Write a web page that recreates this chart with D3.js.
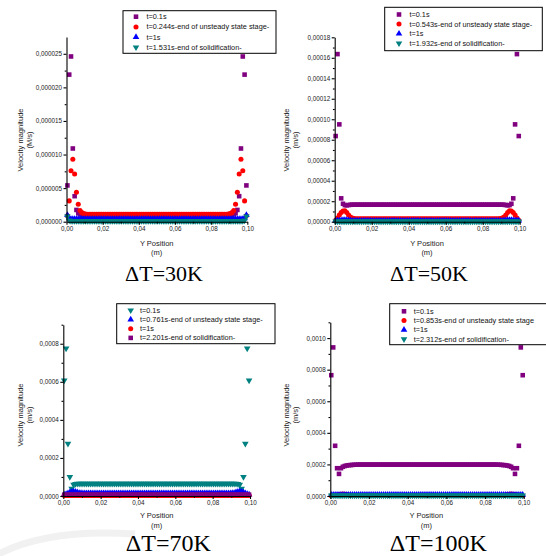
<!DOCTYPE html>
<html>
<head>
<meta charset="utf-8">
<script src="https://cdn.jsdelivr.net/npm/d3@7"></script>
<style>
  body { margin: 0; background: #fff; }
  svg { display: block; font-family: "Liberation Sans", Arial, sans-serif; }
  .caption { font-family: "Liberation Serif", "Times New Roman", serif; }
</style>
</head>
<body>
<svg id="chart" width="546" height="556"></svg>
<script>
// cell centres along the gap, in mm (axis is shown in m)
const cellMm = [
  0.5,1.5,2.5,3.5,4.5,5.5,6.5,7.5,8.5,9.5,10.5,11.5,12.5,13.5,14.5,15.5,16.5,17.5,18.5,19.5,
  20.5,21.5,22.5,23.5,24.5,25.5,26.5,27.5,28.5,29.5,30.5,31.5,32.5,33.5,34.5,35.5,36.5,37.5,38.5,39.5,
  40.5,41.5,42.5,43.5,44.5,45.5,46.5,47.5,48.5,49.5,50.5,51.5,52.5,53.5,54.5,55.5,56.5,57.5,58.5,59.5,
  60.5,61.5,62.5,63.5,64.5,65.5,66.5,67.5,68.5,69.5,70.5,71.5,72.5,73.5,74.5,75.5,76.5,77.5,78.5,79.5,
  80.5,81.5,82.5,83.5,84.5,85.5,86.5,87.5,88.5,89.5,90.5,91.5,92.5,93.5,94.5,95.5,96.5,97.5,98.5,99.5
];

// velocity magnitudes, in micrometres per second
// dT = 30K
const v30_t01 = [
  5.4,21.9,24.6,10.9,3.8,1.75,1.25,1.1,1,1,1,1,1,1,1,1,1,1,1,1,
  1,1,1,1,1,1,1,1,1,1,1,1,1,1,1,1,1,1,1,1,
  1,1,1,1,1,1,1,1,1,1,1,1,1,1,1,1,1,1,1,1,
  1,1,1,1,1,1,1,1,1,1,1,1,1,1,1,1,1,1,1,1,
  1,1,1,1,1,1,1,1,1,1,1,1,1.1,1.25,1.75,3.8,10.9,24.6,21.9,5.4
];
const v30_t0244 = [
  0.9,3.1,7.6,9.3,7.1,4.4,2.6,1.65,1.35,1.2,1.15,1.1,1.1,1.1,1.1,1.1,1.1,1.1,1.1,1.1,
  1.1,1.1,1.1,1.1,1.1,1.1,1.1,1.1,1.1,1.1,1.1,1.1,1.1,1.1,1.1,1.1,1.1,1.1,1.1,1.1,
  1.1,1.1,1.1,1.1,1.1,1.1,1.1,1.1,1.1,1.1,1.1,1.1,1.1,1.1,1.1,1.1,1.1,1.1,1.1,1.1,
  1.1,1.1,1.1,1.1,1.1,1.1,1.1,1.1,1.1,1.1,1.1,1.1,1.1,1.1,1.1,1.1,1.1,1.1,1.1,1.1,
  1.1,1.1,1.1,1.1,1.1,1.1,1.1,1.1,1.1,1.15,1.2,1.35,1.65,2.6,4.4,7.1,9.3,7.6,3.1,0.9
];
const v30_t1 = [
  1,0.5,0.4,0.4,0.4,0.4,0.4,0.4,0.4,0.4,0.4,0.4,0.4,0.4,0.4,0.4,0.4,0.4,0.4,0.4,
  0.4,0.4,0.4,0.4,0.4,0.4,0.4,0.4,0.4,0.4,0.4,0.4,0.4,0.4,0.4,0.4,0.4,0.4,0.4,0.4,
  0.4,0.4,0.4,0.4,0.4,0.4,0.4,0.4,0.4,0.4,0.4,0.4,0.4,0.4,0.4,0.4,0.4,0.4,0.4,0.4,
  0.4,0.4,0.4,0.4,0.4,0.4,0.4,0.4,0.4,0.4,0.4,0.4,0.4,0.4,0.4,0.4,0.4,0.4,0.4,0.4,
  0.4,0.4,0.4,0.4,0.4,0.4,0.4,0.4,0.4,0.4,0.4,0.4,0.4,0.4,0.4,0.4,0.4,0.4,0.5,1
];
const v30_t1531 = [
  0.8,0.2,0.1,0.1,0.1,0.1,0.1,0.1,0.1,0.1,0.1,0.1,0.1,0.1,0.1,0.1,0.1,0.1,0.1,0.1,
  0.1,0.1,0.1,0.1,0.1,0.1,0.1,0.1,0.1,0.1,0.1,0.1,0.1,0.1,0.1,0.1,0.1,0.1,0.1,0.1,
  0.1,0.1,0.1,0.1,0.1,0.1,0.1,0.1,0.1,0.1,0.1,0.1,0.1,0.1,0.1,0.1,0.1,0.1,0.1,0.1,
  0.1,0.1,0.1,0.1,0.1,0.1,0.1,0.1,0.1,0.1,0.1,0.1,0.1,0.1,0.1,0.1,0.1,0.1,0.1,0.1,
  0.1,0.1,0.1,0.1,0.1,0.1,0.1,0.1,0.1,0.1,0.1,0.1,0.1,0.1,0.1,0.1,0.1,0.1,0.2,0.8
];

// dT = 50K
const v50_t01 = [
  83.6,163.6,95,22.8,17.5,16.2,16,16.3,16.5,16.6,16.6,16.6,16.6,16.6,16.6,16.6,16.6,16.6,16.6,16.6,
  16.6,16.6,16.6,16.6,16.6,16.6,16.6,16.6,16.6,16.6,16.6,16.6,16.6,16.6,16.6,16.6,16.6,16.6,16.6,16.6,
  16.6,16.6,16.6,16.6,16.6,16.6,16.6,16.6,16.6,16.6,16.6,16.6,16.6,16.6,16.6,16.6,16.6,16.6,16.6,16.6,
  16.6,16.6,16.6,16.6,16.6,16.6,16.6,16.6,16.6,16.6,16.6,16.6,16.6,16.6,16.6,16.6,16.6,16.6,16.6,16.6,
  16.6,16.6,16.6,16.6,16.6,16.6,16.6,16.6,16.6,16.6,16.6,16.5,16.3,16,16.2,17.5,22.8,95,163.6,83.6
];
const v50_t0543 = [
  1.5,3.5,6.5,9,10.5,10.6,9,6.5,4.6,3.5,3.1,2.9,2.9,2.9,2.9,2.9,2.9,2.9,2.9,2.9,
  2.9,2.9,2.9,2.9,2.9,2.9,2.9,2.9,2.9,2.9,2.9,2.9,2.9,2.9,2.9,2.9,2.9,2.9,2.9,2.9,
  2.9,2.9,2.9,2.9,2.9,2.9,2.9,2.9,2.9,2.9,2.9,2.9,2.9,2.9,2.9,2.9,2.9,2.9,2.9,2.9,
  2.9,2.9,2.9,2.9,2.9,2.9,2.9,2.9,2.9,2.9,2.9,2.9,2.9,2.9,2.9,2.9,2.9,2.9,2.9,2.9,
  2.9,2.9,2.9,2.9,2.9,2.9,2.9,2.9,2.9,3.1,3.5,4.6,6.5,9,10.6,10.5,9,6.5,3.5,1.5
];
const v50_t1 = [
  1.2,1,1,1.3,1.5,1.6,1.5,1.3,1,0.9,0.9,0.9,0.9,0.9,0.9,0.9,0.9,0.9,0.9,0.9,
  0.9,0.9,0.9,0.9,0.9,0.9,0.9,0.9,0.9,0.9,0.9,0.9,0.9,0.9,0.9,0.9,0.9,0.9,0.9,0.9,
  0.9,0.9,0.9,0.9,0.9,0.9,0.9,0.9,0.9,0.9,0.9,0.9,0.9,0.9,0.9,0.9,0.9,0.9,0.9,0.9,
  0.9,0.9,0.9,0.9,0.9,0.9,0.9,0.9,0.9,0.9,0.9,0.9,0.9,0.9,0.9,0.9,0.9,0.9,0.9,0.9,
  0.9,0.9,0.9,0.9,0.9,0.9,0.9,0.9,0.9,0.9,0.9,1,1.3,1.5,1.6,1.5,1.3,1,1,1.2
];
const v50_t1932 = [
  0.3,0.3,0.3,0.3,0.3,0.3,0.3,0.3,0.3,0.3,0.3,0.3,0.3,0.3,0.3,0.3,0.3,0.3,0.3,0.3,
  0.3,0.3,0.3,0.3,0.3,0.3,0.3,0.3,0.3,0.3,0.3,0.3,0.3,0.3,0.3,0.3,0.3,0.3,0.3,0.3,
  0.3,0.3,0.3,0.3,0.3,0.3,0.3,0.3,0.3,0.3,0.3,0.3,0.3,0.3,0.3,0.3,0.3,0.3,0.3,0.3,
  0.3,0.3,0.3,0.3,0.3,0.3,0.3,0.3,0.3,0.3,0.3,0.3,0.3,0.3,0.3,0.3,0.3,0.3,0.3,0.3,
  0.3,0.3,0.3,0.3,0.3,0.3,0.3,0.3,0.3,0.3,0.3,0.3,0.3,0.3,0.3,0.3,0.3,0.3,0.3,0.3
];

// dT = 70K
const v70_t01 = [
  607,775,275,100,38,60,63,65,65,65,65,65,65,65,65,65,65,65,65,65,
  65,65,65,65,65,65,65,65,65,65,65,65,65,65,65,65,65,65,65,65,
  65,65,65,65,65,65,65,65,65,65,65,65,65,65,65,65,65,65,65,65,
  65,65,65,65,65,65,65,65,65,65,65,65,65,65,65,65,65,65,65,65,
  65,65,65,65,65,65,65,65,65,65,65,65,65,63,60,38,100,275,775,607
];
const v70_t0761 = [
  8,10,14,19,22,23,22,19,16,15,14,14,14,14,14,14,14,14,14,14,
  14,14,14,14,14,14,14,14,14,14,14,14,14,14,14,14,14,14,14,14,
  14,14,14,14,14,14,14,14,14,14,14,14,14,14,14,14,14,14,14,14,
  14,14,14,14,14,14,14,14,14,14,14,14,14,14,14,14,14,14,14,14,
  14,14,14,14,14,14,14,14,14,14,15,16,19,22,23,22,19,14,10,8
];
const v70_t1 = [
  3,3,3,3,3,3,3,3,3,3,3,3,3,3,3,3,3,3,3,3,
  3,3,3,3,3,3,3,3,3,3,3,3,3,3,3,3,3,3,3,3,
  3,3,3,3,3,3,3,3,3,3,3,3,3,3,3,3,3,3,3,3,
  3,3,3,3,3,3,3,3,3,3,3,3,3,3,3,3,3,3,3,3,
  3,3,3,3,3,3,3,3,3,3,3,3,3,3,3,3,3,3,3,3
];
const v70_t2201 = [
  7,7,7,7,7,7,7,7,7,7,7,7,7,7,7,7,7,7,7,7,
  7,7,7,7,7,7,7,7,7,7,7,7,7,7,7,7,7,7,7,7,
  7,7,7,7,7,7,7,7,7,7,7,7,7,7,7,7,7,7,7,7,
  7,7,7,7,7,7,7,7,7,7,7,7,7,7,7,7,7,7,7,7,
  7,7,7,7,7,7,7,7,7,7,7,7,7,7,7,7,7,7,7,7
];

// dT = 100K
const v100_t01 = [
  765,941,318,176,140,176,185,190,193,195,196,197,198,198,199,199,199,199,199,199,
  199,199,199,199,199,199,199,199,199,199,199,199,199,199,199,199,199,199,199,199,
  199,199,199,199,199,199,199,199,199,199,199,199,199,199,199,199,199,199,199,199,
  199,199,199,199,199,199,199,199,199,199,199,199,199,199,199,199,199,199,199,199,
  199,199,199,199,199,199,198,198,197,196,195,193,190,185,176,140,176,318,941,765
];
const v100_t0853 = [
  2,3,4,6,9,11,12,11,9,6,4,3,3,3,3,3,3,3,3,3,
  3,3,3,3,3,3,3,3,3,3,3,3,3,3,3,3,3,3,3,3,
  3,3,3,3,3,3,3,3,3,3,3,3,3,3,3,3,3,3,3,3,
  3,3,3,3,3,3,3,3,3,3,3,3,3,3,3,3,3,3,3,3,
  3,3,3,3,3,3,3,3,3,4,6,9,11,12,11,9,6,4,3,2
];
const v100_t1 = [
  8,8,8,8,8,8,8,8,8,8,8,8,8,8,8,8,8,8,8,8,
  8,8,8,8,8,8,8,8,8,8,8,8,8,8,8,8,8,8,8,8,
  8,8,8,8,8,8,8,8,8,8,8,8,8,8,8,8,8,8,8,8,
  8,8,8,8,8,8,8,8,8,8,8,8,8,8,8,8,8,8,8,8,
  8,8,8,8,8,8,8,8,8,8,8,8,8,8,8,8,8,8,8,8
];
const v100_t2312 = [
  4,4,4,4,4,4,4,4,4,4,4,4,4,4,4,4,4,4,4,4,
  4,4,4,4,4,4,4,4,4,4,4,4,4,4,4,4,4,4,4,4,
  4,4,4,4,4,4,4,4,4,4,4,4,4,4,4,4,4,4,4,4,
  4,4,4,4,4,4,4,4,4,4,4,4,4,4,4,4,4,4,4,4,
  4,4,4,4,4,4,4,4,4,4,4,4,4,4,4,4,4,4,4,4
];

// ticks
const xTicks = [0, 20, 40, 60, 80, 100];
const xTickLabels = ["0,00", "0,02", "0,04", "0,06", "0,08", "0,10"];
const xMinor = [10, 30, 50, 70, 90];

const y30Ticks = [0, 5, 10, 15, 20, 25];
const y30Labels = ["0,000000", "0,000005", "0,000010", "0,000015", "0,000020", "0,000025"];
const y30Minor = [2.5, 7.5, 12.5, 17.5, 22.5];

const y50Ticks = [0, 20, 40, 60, 80, 100, 120, 140, 160, 180];
const y50Labels = ["0,00000", "0,00002", "0,00004", "0,00006", "0,00008", "0,00010", "0,00012", "0,00014", "0,00016", "0,00018"];
const y50Minor = [10, 30, 50, 70, 90, 110, 130, 150, 170];

const y70Ticks = [0, 200, 400, 600, 800];
const y70Labels = ["0,0000", "0,0002", "0,0004", "0,0006", "0,0008"];
const y70Minor = [100, 300, 500, 700, 900];

const y100Ticks = [0, 200, 400, 600, 800, 1000];
const y100Labels = ["0,0000", "0,0002", "0,0004", "0,0006", "0,0008", "0,0010"];
const y100Minor = [100, 300, 500, 700, 900, 1100];

const svg = d3.select("#chart");

const colors = { purple: "#800080", red: "#ff0000", blue: "#0000ff", teal: "#008080" };
const symbolType = { square: d3.symbolSquare, circle: d3.symbolCircle, up: d3.symbolTriangle, down: d3.symbolTriangle };
const symbolSize = { square: 21, circle: 20, up: 19, down: 19 };

function marker(sel, shape, color, cx, cy) {
  sel.append("path")
    .attr("d", d3.symbol().type(symbolType[shape]).size(symbolSize[shape]))
    .attr("transform", `translate(${cx},${cy})` + (shape === "down" ? " rotate(180)" : ""))
    .attr("fill", colors[color]);
}

// faint grey smear in the lower left corner of the scan
svg.append("path")
  .attr("d", "M-5,556 Q45,528 135,534")
  .attr("fill", "none")
  .attr("stroke", "#f1f1f1")
  .attr("stroke-width", 7);

function drawPanel(p) {
  const x = d3.scaleLinear().domain([0, 100]).range([p.left, p.right]);
  const y = d3.scaleLinear().domain([0, p.yMax]).range([p.bottom, p.top]);
  const g = svg.append("g");

  // data, drawn in legend order
  p.series.forEach(s => {
    const sym = d3.symbol().type(symbolType[s.shape]).size(symbolSize[s.shape]);
    g.append("g").selectAll("path")
      .data(s.values).join("path")
        .attr("d", sym)
        .attr("transform", (d, i) => `translate(${x(cellMm[i])},${y(d)})` + (s.shape === "down" ? " rotate(180)" : ""))
        .attr("fill", colors[s.color]);
  });

  // axes
  g.append("g")
    .attr("transform", `translate(${p.left},0)`)
    .call(d3.axisLeft(y).tickValues(p.yTicks).tickFormat((d, i) => p.yLabels[i]).tickSize(3).tickSizeOuter(0).tickPadding(1.5));
  g.append("g")
    .attr("transform", `translate(${p.left},0)`)
    .call(d3.axisLeft(y).tickValues(p.yMinor).tickFormat("").tickSize(1.8))
    .select(".domain").remove();

  g.append("g")
    .attr("transform", `translate(0,${p.bottom})`)
    .call(d3.axisBottom(x).tickValues(xTicks).tickFormat((d, i) => xTickLabels[i]).tickSize(3).tickSizeOuter(0).tickPadding(1.5));
  g.append("g")
    .attr("transform", `translate(0,${p.bottom})`)
    .call(d3.axisBottom(x).tickValues(xMinor).tickFormat("").tickSize(1.8))
    .select(".domain").remove();

  g.selectAll(".domain, .tick line").attr("stroke", "#000").attr("stroke-width", 1.1);
  g.selectAll(".tick text").attr("font-size", 6.3).attr("fill", "#222")
    .attr("font-family", "'Liberation Sans', Arial, sans-serif");

  // axis titles
  const yt = g.append("g").attr("font-size", 7.5).attr("fill", "#222").attr("text-anchor", "middle");
  yt.append("text").attr("transform", `translate(${p.yTitleX},${p.yTitleY}) rotate(-90)`)
    .attr("dy", "0.35em").text("Velocity magnitude");
  yt.append("text").attr("transform", `translate(${p.yTitleX + 9.4},${p.yTitleY}) rotate(-90)`)
    .attr("dy", "0.35em").text(p.unit);
  yt.append("text").attr("x", p.xTitleX).attr("y", p.xTitleY).attr("dy", "0.35em").text("Y Position");
  yt.append("text").attr("x", p.xTitleX).attr("y", p.xTitleY + 9.4).attr("dy", "0.35em").text("(m)");

  // legend
  const lg = g.append("g");
  lg.append("rect")
    .attr("x", p.legend.x).attr("y", p.legend.y)
    .attr("width", p.legend.w).attr("height", p.legend.h)
    .attr("fill", "#fff").attr("stroke", "#000").attr("stroke-width", 1);
  p.series.forEach((s, i) => {
    const ry = p.legend.row0 + i * p.legend.step;
    marker(lg, s.shape, s.color, p.legend.mx, ry);
    lg.append("text")
      .attr("x", p.legend.tx).attr("y", ry).attr("dy", "0.35em")
      .attr("font-size", 7.3).attr("fill", "#111")
      .text(s.name);
  });

  // caption
  svg.append("text").attr("class", "caption")
    .attr("x", p.capX).attr("y", p.capY)
    .attr("text-anchor", "middle")
    .attr("font-size", p.capSize)
    .text(p.caption);
}

drawPanel({
  left: 66.5, right: 247.3, top: 37, bottom: 221.7, yMax: 27.5,
  yTicks: y30Ticks, yLabels: y30Labels, yMinor: y30Minor,
  unit: "(M/s)", yTitleX: 20, yTitleY: 140, xTitleX: 156.7, xTitleY: 243.3,
  legend: { x: 123, y: 10.7, w: 153, h: 42.6, mx: 136, tx: 146.5, row0: 16.7, step: 10.2 },
  series: [
    { name: "t=0.1s", values: v30_t01, shape: "square", color: "purple" },
    { name: "t=0.244s-end of unsteady state stage-", values: v30_t0244, shape: "circle", color: "red" },
    { name: "t=1s", values: v30_t1, shape: "up", color: "blue" },
    { name: "t=1.531s-end of solidification-", values: v30_t1531, shape: "down", color: "teal" }
  ],
  caption: "ΔT=30K", capX: 164, capY: 281, capSize: 22
});

drawPanel({
  left: 334.7, right: 519.7, top: 37.3, bottom: 221.7, yMax: 180,
  yTicks: y50Ticks, yLabels: y50Labels, yMinor: y50Minor,
  unit: "(m/s)", yTitleX: 286.3, yTitleY: 140, xTitleX: 427, xTitleY: 243.3,
  legend: { x: 384.7, y: 7.3, w: 157.6, h: 43.4, mx: 399, tx: 409.5, row0: 14.5, step: 9.6 },
  series: [
    { name: "t=0.1s", values: v50_t01, shape: "square", color: "purple" },
    { name: "t=0.543s-end of unsteady state stage-", values: v50_t0543, shape: "circle", color: "red" },
    { name: "t=1s", values: v50_t1, shape: "up", color: "blue" },
    { name: "t=1.932s-end of solidification-", values: v50_t1932, shape: "down", color: "teal" }
  ],
  caption: "ΔT=50K", capX: 429, capY: 281, capSize: 22
});

drawPanel({
  left: 63.3, right: 250, top: 324.7, bottom: 496, yMax: 900,
  yTicks: y70Ticks, yLabels: y70Labels, yMinor: y70Minor,
  unit: "(m/s)", yTitleX: 20, yTitleY: 415, xTitleX: 156.7, xTitleY: 515.7,
  legend: { x: 116.7, y: 303.7, w: 158.3, h: 40, mx: 130.7, tx: 140, row0: 310.3, step: 9.2 },
  series: [
    { name: "t=0.1s", values: v70_t01, shape: "down", color: "teal" },
    { name: "t=0.761s-end of unsteady state stage-", values: v70_t0761, shape: "up", color: "blue" },
    { name: "t=1s", values: v70_t1, shape: "circle", color: "red" },
    { name: "t=2.201s-end of solidification-", values: v70_t2201, shape: "square", color: "purple" }
  ],
  caption: "ΔT=70K", capX: 168.3, capY: 551, capSize: 24
});

drawPanel({
  left: 330.3, right: 523.7, top: 322.3, bottom: 496, yMax: 1100,
  yTicks: y100Ticks, yLabels: y100Labels, yMinor: y100Minor,
  unit: "(m/s)", yTitleX: 286.3, yTitleY: 415, xTitleX: 426.3, xTitleY: 515.7,
  legend: { x: 389.7, y: 303.7, w: 170, h: 41, mx: 404, tx: 413.7, row0: 311.3, step: 9.3 },
  series: [
    { name: "t=0.1s", values: v100_t01, shape: "square", color: "purple" },
    { name: "t=0.853s-end of unsteady state stage", values: v100_t0853, shape: "circle", color: "red" },
    { name: "t=1s", values: v100_t1, shape: "up", color: "blue" },
    { name: "t=2.312s-end of solidification-", values: v100_t2312, shape: "down", color: "teal" }
  ],
  caption: "ΔT=100K", capX: 438.3, capY: 551, capSize: 24
});
</script>
</body>
</html>
